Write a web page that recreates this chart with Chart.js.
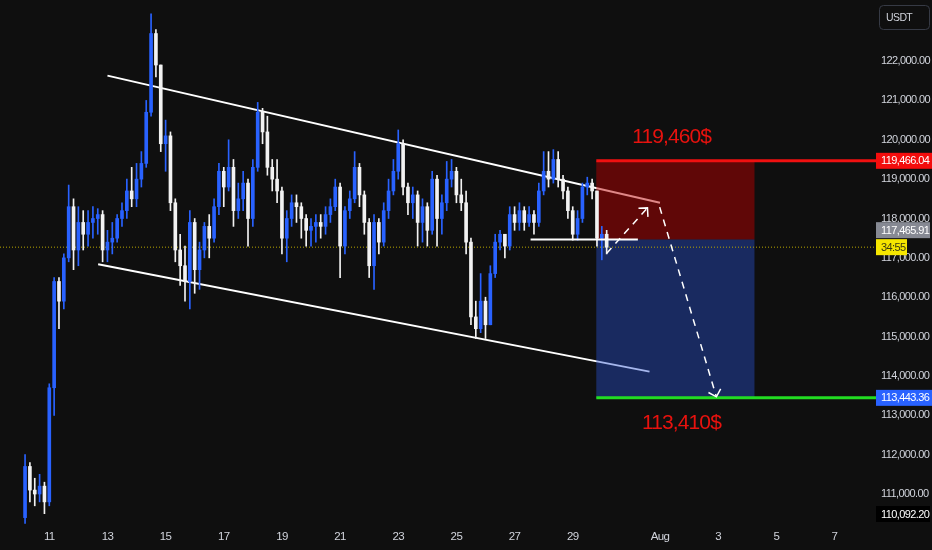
<!DOCTYPE html>
<html>
<head>
<meta charset="utf-8">
<title>BTCUSDT 4h</title>
<script src="https://cdn.jsdelivr.net/npm/chart.js@4.4.1/dist/chart.umd.min.js"></script>
<style>
  html, body { margin: 0; padding: 0; background: #0f0f0f; overflow: hidden; }
</style>
</head>
<body>
<canvas id="myChart" width="932" height="550"></canvas>
<script>
// variables: CANDLE DATA (4h candles, first one Jul 10 04:00, x unit = July day number, Aug 1 = 32)
var firstCandleDay = 10 + 4 / 24;
var candlesPerDay = 6;

var candleOpen = [110400,111700,111100,111000,111200,110800,113700,116400,115900,117000,
118300,117200,117900,117600,117900,118000,118100,117200,117400,117500,
118000,118200,118700,118500,119000,119400,120700,122700,121900,119900,
120100,118400,117200,116800,116400,117900,116700,117200,117800,117500,
118300,119200,118800,119300,118200,118500,118900,118000,119300,120700,
120200,119300,119000,118700,117500,118000,118400,118300,118000,117700,
117800,117900,117800,118100,118300,118800,117300,118200,118500,119300,
118600,117900,116800,117900,117400,118200,118700,119200,119900,118800,
118400,118600,117900,118300,117700,119000,118000,118400,119000,119200,
118600,118400,117400,115500,115200,115900,115300,116600,117400,117600,
117300,118100,117900,118200,117900,118100,117900,118700,119200,119000,
119500,119000,118700,118200,117600,118000,118800,118900,118700,117500,
117600];

var candleHigh = [112000,111800,111400,111500,111300,113800,116500,116500,117100,118850,
118500,118300,118200,118200,118300,118250,118200,117700,117900,118100,
118400,119000,119300,119400,119700,121000,123200,122800,121900,120500,
120200,118500,117600,117300,118200,118000,117400,117900,118100,118500,
119400,119300,120000,119500,118900,119200,119000,119500,120950,120800,
120600,119500,119500,118800,118200,118600,118600,118400,118100,118000,
118100,118100,118300,118500,119000,118900,118300,118700,119700,119400,
118700,118000,118100,118000,118400,119000,119500,120250,120000,118900,
118800,118700,118500,118400,119200,119100,118600,119450,119500,119300,
119000,118700,117500,115900,116600,116000,116800,117600,117700,117600,
118300,118300,118400,118300,118300,118200,118900,119700,119700,119750,
119700,119100,118800,118300,118200,118900,119050,119000,118700,117800,
117700];

var candleLow = [110250,110800,110700,110800,110500,110700,113000,115200,115700,116900,
116700,116800,117200,117300,117500,117600,116900,116900,117100,117400,
117800,118000,118300,118300,118800,119300,120600,121600,119700,119200,
118200,116900,116300,115900,115700,116100,116200,117000,117000,117400,
118100,118300,118700,117800,118000,118200,117300,117800,119200,119900,
119100,118700,118400,117100,116900,117800,117900,117500,117300,117300,
117400,117500,117600,117900,118200,116500,117100,118000,118400,118300,
117600,116500,116200,117100,117300,118000,118600,119000,118600,118100,
118000,117300,117400,117300,117600,117300,117600,118200,118800,118400,
118200,117100,115300,114950,115100,114950,115300,116500,117200,117000,
117200,117700,117700,117700,117800,117600,117800,118600,118800,118900,
118800,118500,118000,117450,117450,117900,118600,118500,117300,116950,
117100];

var candleClose = [111700,111100,111000,111200,110800,113700,116400,115900,117000,118300,
117200,117900,117600,117900,118000,118100,117200,117400,117500,118000,
118200,118700,118500,119000,119400,120700,122700,121900,119900,120100,
118400,117200,116800,116400,117900,116700,117200,117800,117500,118300,
119200,118800,119300,118200,118500,118900,118000,119300,120700,120200,
119300,119000,118700,117500,118000,118400,118300,118000,117700,117800,
117900,117800,118100,118300,118800,117300,118200,118500,119300,118600,
117900,116800,117900,117400,118200,118700,119200,119900,118800,118400,
118600,117900,118300,117700,119000,118000,118400,119000,119200,118600,
118400,117400,115500,115200,115900,115300,116600,117400,117600,117300,
118100,117900,118200,117900,118100,117900,118700,119200,119000,119500,
119000,118700,118200,117600,118000,118800,118900,118700,117500,117600,
117270];

// variables: AXIS TICKS
var dayTicks = [11, 13, 15, 17, 19, 21, 23, 25, 27, 29, 32, 34, 36, 38];
var dayTickLabels = ["11", "13", "15", "17", "19", "21", "23", "25", "27", "29", "Aug", "3", "5", "7"];
var priceTicks = [111000, 112000, 113000, 114000, 115000, 116000, 117000, 118000, 119000, 120000, 121000, 122000];

// variables: DRAWINGS ([day, price])
var channelTop = [[13.0, 121630], [32.0, 118400]];
var channelBottom = [[12.68, 116840], [31.64, 114110]];
var entryLine = [[27.55, 117466], [31.24, 117466]];
var pathUp = [[30.17, 117120], [31.57, 118270]];
var pathDown = [[31.99, 118290], [33.94, 113470]];
var boxDays = [29.81, 35.25];

var stopPrice = 119466.04;
var entryPrice = 117465.91;
var targetPrice = 113443.36;
var lastPrice = 117272;
var rangeLow = 110092.20;
var countdown = "34:55";
var stopText = "119,460$";
var targetText = "113,410$";
var stopTextAt = [32.40, 120070];
var targetTextAt = [32.74, 112810];

// variables: VIEW RANGE
var xMin = 9.305, xMax = 39.463;
var yMin = 110238, yMax = 123552;

var upColor = "#2962ff";
var downColor = "#f2f2f2";
var axisFont = "'Liberation Sans', Arial, sans-serif";

// function: TURN [day, price] PAIRS INTO CHART POINTS
var toPoints = function(pairs) {
    return pairs.map(function(p) { return { x: p[0], y: p[1] }; });
};

var candleDay = function(i) {
    return firstCandleDay + i / candlesPerDay;
};

var candleColor = function(ctx) {
    var i = ctx.dataIndex;
    return candleClose[i] >= candleOpen[i] ? upColor : downColor;
};

var priceLabel = function(v) {
    return v.toLocaleString("en-US", { minimumFractionDigits: 2, maximumFractionDigits: 2 });
};

var wickData = candleHigh.map(function(h, i) { return { x: candleDay(i), y: [candleLow[i], h] }; });
var bodyData = candleClose.map(function(c, i) { return { x: candleDay(i), y: [candleOpen[i], c] }; });

// function: ARROW HEAD AT THE END OF A SEGMENT
var arrowHead = function(ctx, x0, y0, x1, y1) {
    var a = Math.atan2(y1 - y0, x1 - x0);
    var len = 9;
    ctx.beginPath();
    ctx.moveTo(x1 - len * Math.cos(a - Math.PI / 4), y1 - len * Math.sin(a - Math.PI / 4));
    ctx.lineTo(x1, y1);
    ctx.lineTo(x1 - len * Math.cos(a + Math.PI / 4), y1 - len * Math.sin(a + Math.PI / 4));
    ctx.stroke();
};

// function: COLOURED PRICE TAG ON THE RIGHT AXIS
var priceTag = function(ctx, area, yPix, text, bg, fg, width) {
    ctx.fillStyle = bg;
    ctx.fillRect(area.right - 1, yPix - 8, width, 16);
    ctx.fillStyle = fg;
    ctx.fillText(text, area.right + 4, yPix + 0.5);
};

var overlayPlugin = {
    id: "overlay",
    beforeDraw: function(chart) {
        // tighter letters, the price axis is narrow
        chart.ctx.letterSpacing = "-0.6px";
    },
    afterDatasetDraw: function(chart, args) {
        // risk / reward boxes go over the channel lines, under the candles
        if (args.index !== 1) return;
        var xs = chart.scales.x, ys = chart.scales.y, ctx = chart.ctx;
        var left = xs.getPixelForValue(boxDays[0]);
        var right = xs.getPixelForValue(boxDays[1]);
        var top = ys.getPixelForValue(stopPrice);
        var mid = ys.getPixelForValue(entryPrice);
        var bottom = ys.getPixelForValue(targetPrice);
        ctx.save();
        ctx.fillStyle = "rgba(190, 0, 0, 0.47)";
        ctx.fillRect(left, top, right - left, mid - top);
        ctx.fillStyle = "rgba(40, 80, 210, 0.42)";
        ctx.fillRect(left, mid, right - left, bottom - mid);
        ctx.restore();
    },
    afterDraw: function(chart) {
        var xs = chart.scales.x, ys = chart.scales.y, ctx = chart.ctx, area = chart.chartArea;
        ctx.save();

        // arrow heads of the dashed path
        ctx.strokeStyle = "#ffffff";
        ctx.lineWidth = 1.5;
        arrowHead(ctx, xs.getPixelForValue(pathUp[0][0]), ys.getPixelForValue(pathUp[0][1]),
            xs.getPixelForValue(pathUp[1][0]), ys.getPixelForValue(pathUp[1][1]));
        arrowHead(ctx, xs.getPixelForValue(pathDown[0][0]), ys.getPixelForValue(pathDown[0][1]),
            xs.getPixelForValue(pathDown[1][0]), ys.getPixelForValue(pathDown[1][1]));

        // red price texts
        ctx.fillStyle = "#e8120e";
        ctx.font = "21px " + axisFont;
        ctx.letterSpacing = "-0.9px";
        ctx.textAlign = "center";
        ctx.textBaseline = "middle";
        ctx.fillText(stopText, xs.getPixelForValue(stopTextAt[0]), ys.getPixelForValue(stopTextAt[1]));
        ctx.fillText(targetText, xs.getPixelForValue(targetTextAt[0]), ys.getPixelForValue(targetTextAt[1]));

        // axis price tags
        ctx.font = "11px " + axisFont;
        ctx.letterSpacing = "-0.6px";
        ctx.textAlign = "left";
        var lastY = ys.getPixelForValue(lastPrice);
        var entryY = Math.min(ys.getPixelForValue(entryPrice), lastY - 17);
        var lowY = Math.min(ys.getPixelForValue(rangeLow), area.bottom - 10);
        priceTag(ctx, area, ys.getPixelForValue(stopPrice), priceLabel(stopPrice), "#f40d0d", "#ffffff", 60);
        priceTag(ctx, area, entryY, priceLabel(entryPrice), "#868993", "#ffffff", 54);
        priceTag(ctx, area, lastY, countdown, "#f5e600", "#3a3a10", 31);
        priceTag(ctx, area, ys.getPixelForValue(targetPrice), priceLabel(targetPrice), "#2962ff", "#ffffff", 60);
        priceTag(ctx, area, lowY, priceLabel(rangeLow), "#000000", "#ffffff", 54);

        // currency box
        ctx.strokeStyle = "#363a45";
        ctx.lineWidth = 1;
        ctx.beginPath();
        ctx.roundRect(879.5, 5.5, 50, 24, 4);
        ctx.stroke();
        ctx.fillStyle = "#d1d4dc";
        ctx.font = "10.5px " + axisFont;
        ctx.fillText("USDT", 886, 18);
        ctx.restore();
    }
};

var myChart = new Chart(document.getElementById("myChart").getContext("2d"), {
    type: "bar",
    data: {
        datasets: [{
            type: "line",
            label: "channel top",
            data: toPoints(channelTop),
            borderColor: "#ffffff",
            borderWidth: 2,
            pointRadius: 0,
            order: 20
        }, {
            type: "line",
            label: "channel bottom",
            data: toPoints(channelBottom),
            borderColor: "#ffffff",
            borderWidth: 2,
            pointRadius: 0,
            order: 19
        }, {
            type: "line",
            label: "last price",
            data: [{ x: xMin, y: lastPrice }, { x: xMax, y: lastPrice }],
            borderColor: "#b8a800",
            borderWidth: 1,
            borderDash: [1, 2],
            pointRadius: 0,
            order: 15
        }, {
            label: "wicks",
            data: wickData,
            backgroundColor: candleColor,
            barThickness: 1,
            grouped: false,
            order: 10
        }, {
            label: "bodies",
            data: bodyData,
            backgroundColor: candleColor,
            barThickness: 3,
            minBarLength: 1,
            grouped: false,
            order: 9
        }, {
            type: "line",
            label: "entry",
            data: toPoints(entryLine),
            borderColor: "#ffffff",
            borderWidth: 2,
            pointRadius: 0,
            order: 5
        }, {
            type: "line",
            label: "stop",
            data: [{ x: boxDays[0], y: stopPrice }, { x: xMax, y: stopPrice }],
            borderColor: "#f01010",
            borderWidth: 3,
            pointRadius: 0,
            order: 4
        }, {
            type: "line",
            label: "target",
            data: [{ x: boxDays[0], y: targetPrice }, { x: xMax, y: targetPrice }],
            borderColor: "#22dd22",
            borderWidth: 3,
            pointRadius: 0,
            order: 4
        }, {
            type: "line",
            label: "path up",
            data: toPoints(pathUp),
            borderColor: "#ffffff",
            borderWidth: 1.5,
            borderDash: [7, 6],
            pointRadius: 0,
            order: 2
        }, {
            type: "line",
            label: "path down",
            data: toPoints(pathDown),
            borderColor: "#ffffff",
            borderWidth: 1.5,
            borderDash: [7, 6],
            pointRadius: 0,
            order: 2
        }]
    },
    options: {
        responsive: false,
        animation: false,
        events: [],
        layout: { padding: 0 },
        plugins: {
            legend: { display: false },
            tooltip: { enabled: false }
        },
        scales: {
            x: {
                type: "linear",
                min: xMin,
                max: xMax,
                offset: false,
                grid: { display: false, drawTicks: false },
                border: { display: false },
                afterBuildTicks: function(scale) {
                    scale.ticks = dayTicks.map(function(d) { return { value: d }; });
                },
                afterFit: function(scale) {
                    scale.height = 26;
                    scale.paddingLeft = 0;
                    scale.paddingRight = 0;
                },
                ticks: {
                    autoSkip: false,
                    maxRotation: 0,
                    padding: 6,
                    color: "#d1d4dc",
                    font: { family: axisFont, size: 11.5 },
                    callback: function(value) {
                        var k = dayTicks.indexOf(value);
                        return k >= 0 ? dayTickLabels[k] : "";
                    }
                }
            },
            y: {
                type: "linear",
                position: "right",
                min: yMin,
                max: yMax,
                grid: { display: false, drawTicks: false },
                border: { display: false },
                afterBuildTicks: function(scale) {
                    scale.ticks = priceTicks.map(function(p) { return { value: p }; });
                },
                afterFit: function(scale) {
                    scale.width = 55;
                    scale.paddingTop = 0;
                    scale.paddingBottom = 0;
                },
                ticks: {
                    padding: 4,
                    color: "#d1d4dc",
                    font: { family: axisFont, size: 11 },
                    callback: function(value) { return priceLabel(value); }
                }
            }
        }
    },
    plugins: [overlayPlugin]
});
</script>
</body>
</html>
